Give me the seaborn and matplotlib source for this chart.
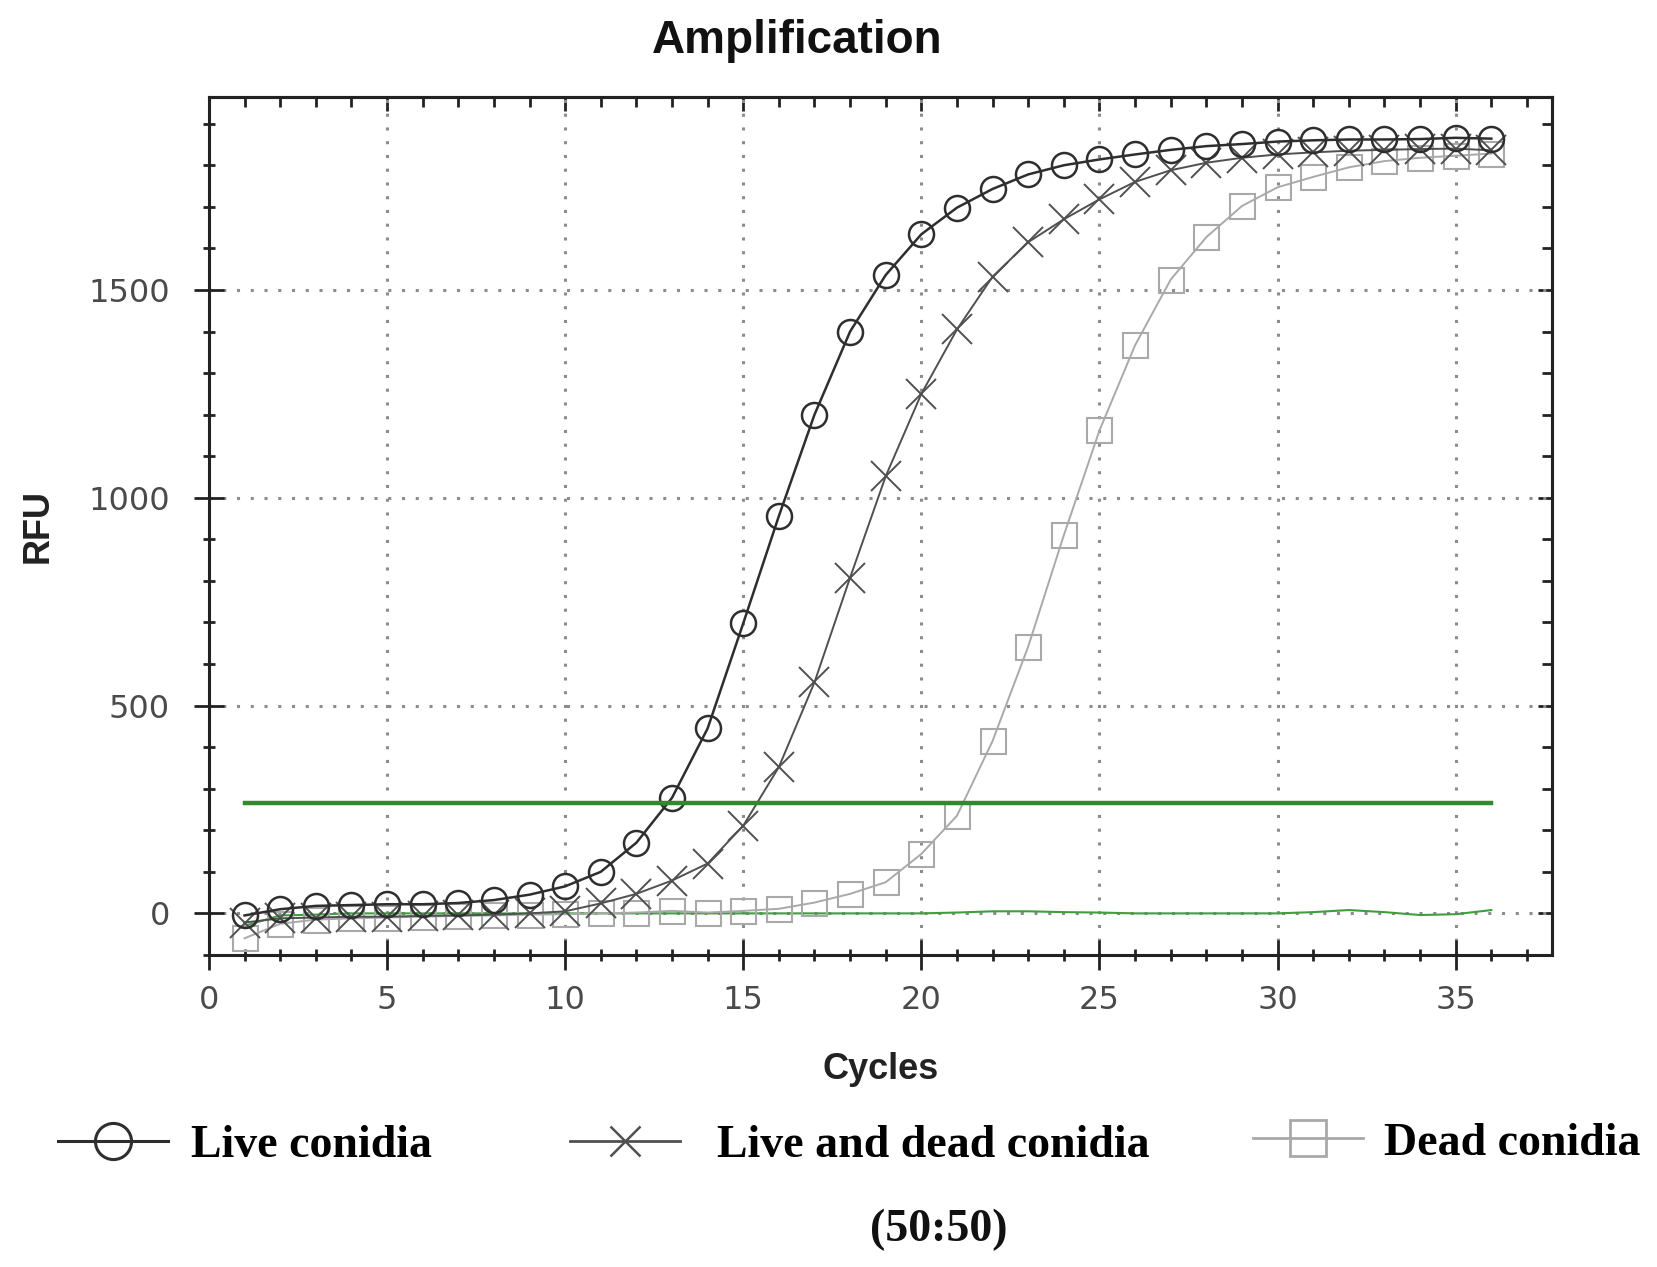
import matplotlib
matplotlib.use("Agg")
import matplotlib.pyplot as plt
from matplotlib.lines import Line2D
from matplotlib.ticker import MultipleLocator
import seaborn as sns
import pandas as pd

# ---------------- data ----------------
cycles = list(range(1, 37))
live_conidia = [-5, 10, 18, 20, 22, 22, 25, 32, 45, 65, 100, 170, 278, 445, 698, 956,
                1200, 1400, 1536, 1634, 1698, 1743, 1778, 1800, 1814, 1826, 1837, 1846,
                1851, 1857, 1860, 1862, 1862, 1863, 1866, 1864]
live_dead_conidia = [-22, -12, -10, -8, -8, -6, -5, -3, 0, 5, 24, 47, 79, 120, 211, 352,
                     556, 808, 1052, 1250, 1405, 1532, 1615, 1670, 1718, 1760, 1788, 1806,
                     1818, 1826, 1831, 1835, 1837, 1839, 1840, 1836]
dead_conidia = [-60, -25, -15, -12, -10, -8, -6, -5, -3, -2, 0, 2, 6, 2, 6, 11,
                26, 47, 75, 143, 235, 415, 642, 910, 1162, 1367, 1525, 1627, 1702, 1747,
                1772, 1795, 1810, 1818, 1823, 1828]
baseline = [-30, -5, -3, 0, 0, 0, 0, 0, 0, 0, 0, 0, 0, 0, 0, 0, 0, 0, 0, 0,
            2, 5, 5, 3, 2, 0, 0, 0, 0, 0, 3, 8, 3, -4, -2, 8]
threshold_value = 265

series_names = ["Live conidia", "Live and dead conidia", "Dead conidia"]
x_ticks = [0, 5, 10, 15, 20, 25, 30, 35]
y_ticks = [0, 500, 1000, 1500]
title_text = "Amplification"
x_label = "Cycles"
y_label = "RFU"
footnote = "(50:50)"

df = pd.DataFrame({"cycle": cycles, "live": live_conidia, "livedead": live_dead_conidia,
                   "dead": dead_conidia, "baseline": baseline,
                   "threshold": [threshold_value] * len(cycles)})

# ---------------- figure ----------------
fig = plt.figure(figsize=(16.58, 12.67), dpi=100)
ax = fig.add_axes([0.126, 0.2463, 0.810, 0.6774])

sans = ["Liberation Sans", "DejaVu Sans"]
serif = ["Liberation Serif", "DejaVu Serif"]

c_live = "#2e2e2e"
c_ld = "#505050"
c_dead = "#a9a9a9"
c_green = "#2f8a2f"

sns.lineplot(data=df, x="cycle", y="baseline", ax=ax, color="#3f9f3f", lw=1.5, zorder=2)
sns.lineplot(data=df, x="cycle", y="dead", ax=ax, color=c_dead, lw=1.4, marker="s",
             markersize=18, markerfacecolor="none", markeredgecolor=c_dead,
             markeredgewidth=1.5, zorder=3)
sns.lineplot(data=df, x="cycle", y="livedead", ax=ax, color=c_ld, lw=1.4, marker="x",
             markersize=21, markeredgecolor=c_ld, markeredgewidth=1.4, zorder=4)
sns.lineplot(data=df, x="cycle", y="live", ax=ax, color=c_live, lw=1.8, marker="o",
             markersize=18, markerfacecolor="none", markeredgecolor=c_live,
             markeredgewidth=1.8, zorder=5)
sns.lineplot(data=df, x="cycle", y="threshold", ax=ax, color=c_green, lw=3.2, zorder=6)

ax.set_xlim(0, 37.7)
ax.set_ylim(-100, 1965)

# grid
ax.set_axisbelow(True)
ax.set_xticks(x_ticks)
ax.set_yticks(y_ticks)
ax.xaxis.set_minor_locator(MultipleLocator(1))
ax.yaxis.set_minor_locator(MultipleLocator(100))
ax.grid(True, which="major", color="#8c8c8c", linestyle=(0, (1, 3.5)), lw=2.2)

for s in ax.spines.values():
    s.set_color("#222222")
    s.set_linewidth(2.2)

ax.tick_params(axis="both", which="major", direction="inout", length=22, width=2,
               color="#222222", labelsize=23, labelcolor="#4a4a4a")
ax.tick_params(axis="both", which="minor", direction="inout", length=9, width=2,
               color="#222222")
ax.tick_params(axis="x", which="major", pad=11)
ax.tick_params(axis="y", which="major", pad=17)
ax.tick_params(top=False, right=False, which="both")
for lab in ax.get_xticklabels() + ax.get_yticklabels():
    lab.set_family("DejaVu Sans")

# top / right inward ticks
secx = ax.secondary_xaxis("top")
secx.set_xticks(x_ticks)
secx.xaxis.set_minor_locator(MultipleLocator(1))
secx.tick_params(which="major", direction="in", length=10, width=2, color="#222222",
                 labeltop=False)
secx.tick_params(which="minor", direction="in", length=7, width=2, color="#222222")
secx.spines["top"].set_linewidth(2.2)
secx.spines["top"].set_color("#222222")
secy = ax.secondary_yaxis("right")
secy.set_yticks(y_ticks)
secy.yaxis.set_minor_locator(MultipleLocator(100))
secy.tick_params(which="major", direction="in", length=10, width=2, color="#222222",
                 labelright=False)
secy.tick_params(which="minor", direction="in", length=7, width=2, color="#222222")
secy.spines["right"].set_linewidth(2.2)
secy.spines["right"].set_color("#222222")

ax.set_xlabel(x_label, fontsize=26, fontweight="bold", family=sans, color="#222222",
              va="center")
ax.set_ylabel(y_label, fontsize=26, fontweight="bold", family=sans, color="#222222",
              va="center")
ax.xaxis.set_label_coords(0.5, -0.134)
ax.yaxis.set_label_coords(-0.127, 0.5)

fig.text(0.481, 0.968, title_text, ha="center", va="center", fontsize=33,
         fontweight="bold", family=sans, color="#111111")

# legend: three separate entries
handles = [
    Line2D([], [], color=c_live, lw=2.2, marker="o", markersize=26,
           markerfacecolor="none", markeredgecolor=c_live, markeredgewidth=2.2),
    Line2D([], [], color=c_ld, lw=2.0, marker="x", markersize=22,
           markeredgecolor=c_ld, markeredgewidth=1.8),
    Line2D([], [], color=c_dead, lw=2.0, marker="s", markersize=26,
           markerfacecolor="none", markeredgecolor=c_dead, markeredgewidth=2.0),
]
leg_x = [0.035, 0.344, 0.756]
leg_y = [0.0955, 0.0955, 0.0975]
leg_pad = [0.5, 0.8, 0.45]
for h, name, lx, ly, tp in zip(handles, series_names, leg_x, leg_y, leg_pad):
    fig.legend([h], [name], loc="center left", bbox_to_anchor=(lx, ly),
               frameon=False, borderpad=0, borderaxespad=0, handlelength=2.4,
               handletextpad=tp,
               prop={"family": serif, "weight": "bold", "size": 33})

fig.text(0.566, 0.029, footnote, ha="center", va="center", fontsize=33,
         fontweight="bold", family=serif, color="#111111")

fig.savefig("out.png", dpi=100)
